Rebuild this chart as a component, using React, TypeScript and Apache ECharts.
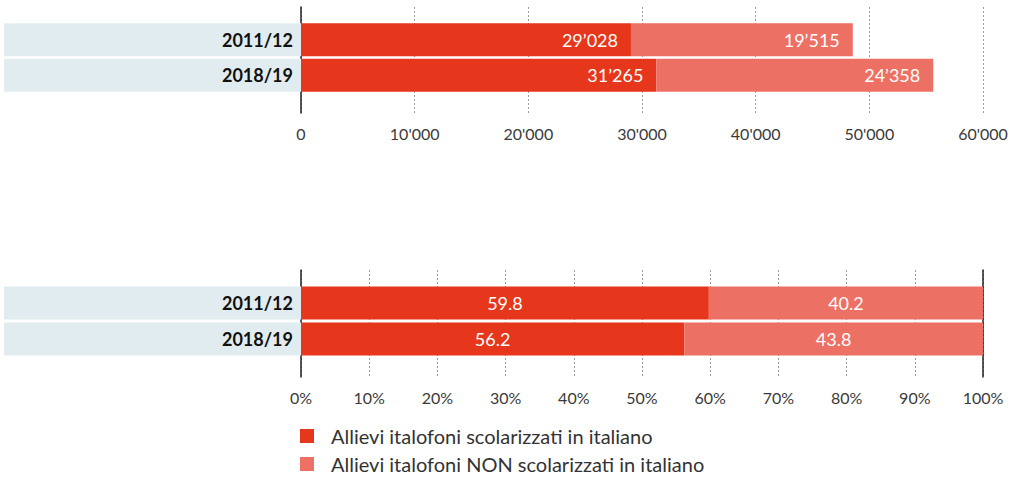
import React, { useEffect, useRef } from "react";
import * as echarts from "echarts";

const categories = ["2011/12", "2018/19"];
const seriesNames = [
  "Allievi italofoni scolarizzati in italiano",
  "Allievi italofoni NON scolarizzati in italiano",
];
const absItalian = [29028, 31265];
const absNonItalian = [19515, 24358];
const pctItalian = [59.8, 56.2];
const pctNonItalian = [40.2, 43.8];
const absTicks = { min: 0, max: 60000, interval: 10000 };
const pctTicks = { min: 0, max: 100, interval: 10 };

const DARK = "#e6361b";
const LIGHT = "#ed7064";
const BAND = "#e1ecf0";
const FONT = "Lato, 'Open Sans', sans-serif";

const fmtThousands = (v: number, sep: string) =>
  String(Math.round(v)).replace(/\B(?=(\d{3})+(?!\d))/g, sep);

export default function App() {
  const ref = useRef<HTMLDivElement>(null);
  useEffect(() => {
    if (!ref.current) return;
    const chart = echarts.init(ref.current, undefined, { renderer: "svg" });

    const catLabel = {
      show: true,
      margin: 0,
      align: "right",
      padding: [0, 8, 0, 0],
      width: 289,
      height: 33,
      lineHeight: 33,
      backgroundColor: BAND,
      color: "#111",
      fontFamily: FONT,
      fontWeight: "bold",
      fontSize: 18,
    };
    const splitLine = {
      show: true,
      lineStyle: { color: "#9a9a9a", type: [2, 2], width: 1 },
    };
    const tickLabel = {
      color: "#3a3a3a",
      fontFamily: FONT,
      fontSize: 16,
      margin: 12,
    };
    const valueLabel = {
      show: true,
      color: "#ffffff",
      fontFamily: FONT,
      fontSize: 18,
    };

    chart.setOption({
      animation: false,
      grid: [
        { left: 301, width: 682, top: 7, height: 106 },
        { left: 301, width: 682, top: 22, height: 71 },
        { left: 301, width: 682, top: 270, height: 107 },
        { left: 301, width: 682, top: 285, height: 72 },
      ],
      xAxis: [
        {
          gridIndex: 0,
          type: "value",
          ...absTicks,
          axisLine: { show: false },
          axisTick: { show: false },
          splitLine,
          axisLabel: { ...tickLabel, formatter: (v: number) => fmtThousands(v, "'") },
        },
        { gridIndex: 1, type: "value", ...absTicks, show: false },
        {
          gridIndex: 2,
          type: "value",
          ...pctTicks,
          axisLine: { show: false },
          axisTick: { show: false },
          splitLine,
          axisLabel: { ...tickLabel, formatter: (v: number) => v + "%" },
        },
        { gridIndex: 3, type: "value", ...pctTicks, show: false },
      ],
      yAxis: [
        {
          gridIndex: 0,
          type: "value",
          min: 0,
          max: 1,
          axisLine: { show: true, onZero: false, lineStyle: { color: "#222", width: 1.5 } },
          axisTick: { show: false },
          axisLabel: { show: false },
          splitLine: { show: false },
        },
        {
          gridIndex: 1,
          type: "category",
          inverse: true,
          data: categories,
          axisLine: { show: false },
          axisTick: { show: false },
          axisLabel: catLabel,
        },
        {
          gridIndex: 2,
          type: "value",
          min: 0,
          max: 1,
          axisLine: { show: true, onZero: false, lineStyle: { color: "#222", width: 1.5 } },
          axisTick: { show: false },
          axisLabel: { show: false },
          splitLine: { show: false },
        },
        {
          gridIndex: 3,
          type: "category",
          inverse: true,
          data: categories,
          axisLine: { show: false },
          axisTick: { show: false },
          axisLabel: catLabel,
        },
        {
          gridIndex: 2,
          type: "value",
          position: "right",
          min: 0,
          max: 1,
          axisLine: { show: true, onZero: false, lineStyle: { color: "#222", width: 1.5 } },
          axisTick: { show: false },
          axisLabel: { show: false },
          splitLine: { show: false },
        },
      ],
      legend: {
        orient: "vertical",
        left: 300,
        top: 425,
        height: 53,
        padding: 0,
        itemWidth: 14,
        itemHeight: 14,
        itemGap: 6,
        icon: "rect",
        data: seriesNames,
        textStyle: {
          color: "#333",
          fontFamily: FONT,
          fontSize: 20,
          lineHeight: 22,
          padding: [0, 0, 0, 12],
        },
      },
      series: [
        {
          name: seriesNames[0],
          type: "bar",
          xAxisIndex: 1,
          yAxisIndex: 1,
          stack: "abs",
          barWidth: 33,
          data: absItalian,
          itemStyle: { color: DARK },
          label: {
            ...valueLabel,
            position: "insideRight",
            distance: 13,
            formatter: (p: any) => fmtThousands(p.value, "’"),
          },
        },
        {
          name: seriesNames[1],
          type: "bar",
          xAxisIndex: 1,
          yAxisIndex: 1,
          stack: "abs",
          barWidth: 33,
          data: absNonItalian,
          itemStyle: { color: LIGHT },
          label: {
            ...valueLabel,
            position: "insideRight",
            distance: 13,
            formatter: (p: any) => fmtThousands(p.value, "’"),
          },
        },
        {
          name: seriesNames[0],
          type: "bar",
          xAxisIndex: 3,
          yAxisIndex: 3,
          stack: "pct",
          barWidth: 33,
          data: pctItalian,
          itemStyle: { color: DARK },
          label: {
            ...valueLabel,
            position: "inside",
            formatter: (p: any) => p.value.toFixed(1),
          },
        },
        {
          name: seriesNames[1],
          type: "bar",
          xAxisIndex: 3,
          yAxisIndex: 3,
          stack: "pct",
          barWidth: 33,
          data: pctNonItalian,
          itemStyle: { color: LIGHT },
          label: {
            ...valueLabel,
            position: "inside",
            formatter: (p: any) => p.value.toFixed(1),
          },
        },
      ],
    });
    return () => chart.dispose();
  }, []);

  return (
    <div
      ref={ref}
      style={{ position: "fixed", left: 0, top: 0, width: 1012, height: 478, background: "#fff" }}
    />
  );
}
